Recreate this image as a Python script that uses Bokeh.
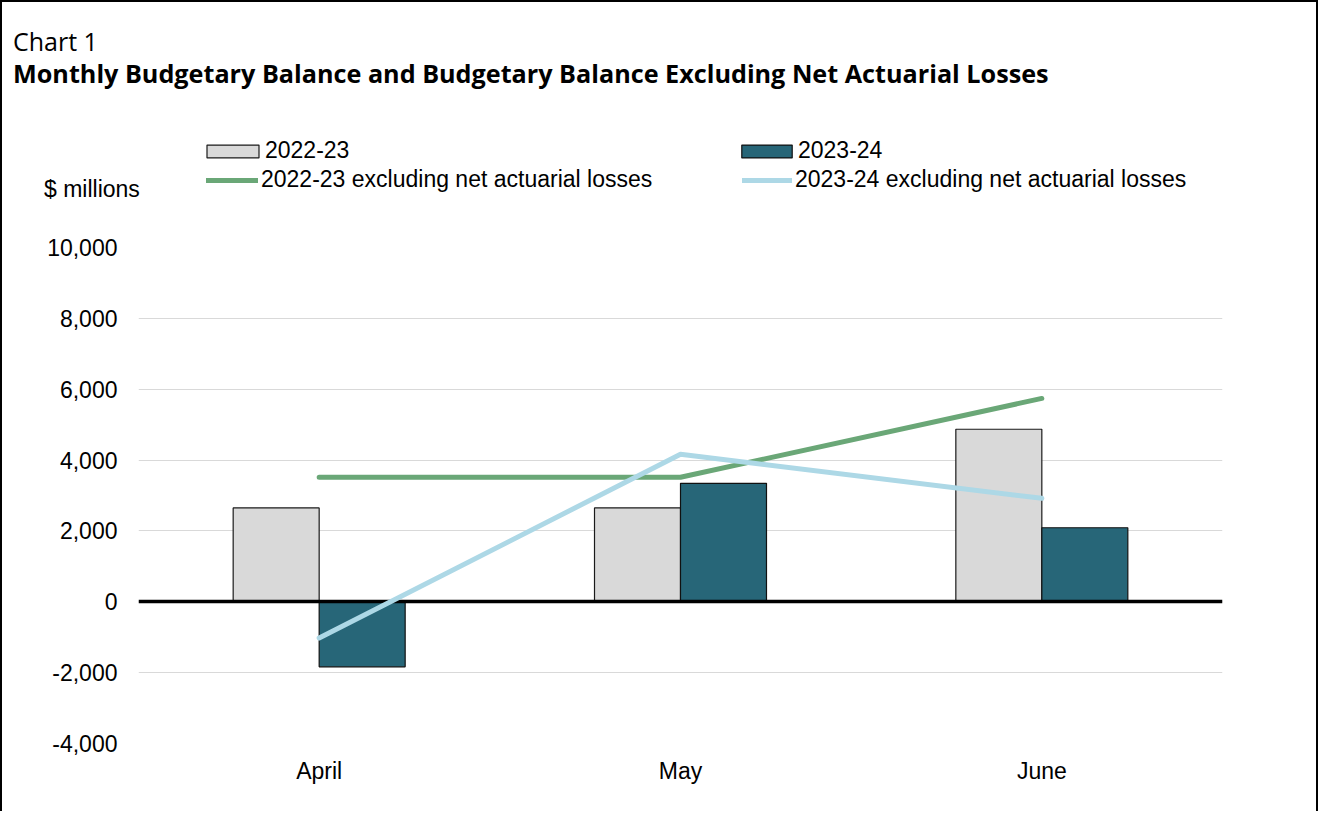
from bokeh.plotting import figure
from bokeh.layouts import column
from bokeh.models import (FactorRange, Range1d, FixedTicker, NumeralTickFormatter, Legend,
                          LegendItem, Label, ColumnDataSource)
from bokeh.transform import dodge
from bokeh.embed import file_html
from bokeh.resources import INLINE

# ---- data ----
months = ["April", "May", "June"]
bal_2022_23 = [2650, 2650, 4870]
bal_2023_24 = [-1835, 3345, 2090]
excl_2022_23 = [3515, 3515, 5740]
excl_2023_24 = [-1025, 4165, 2920]
y_ticks = [-4000, -2000, 0, 2000, 4000, 6000, 8000, 10000]
series_names = ["2022-23", "2023-24",
                "2022-23 excluding net actuarial losses",
                "2023-24 excluding net actuarial losses"]
chart_label = "Chart 1"
chart_title = "Monthly Budgetary Balance and Budgetary Balance Excluding Net Actuarial Losses"
y_unit = "$ millions"

GRAY = "#d9d9d9"
TEAL = "#276678"
GREEN = "#6aa777"
LBLUE = "#add8e6"
AXFONT = "Liberation Sans"
AXSIZE = "23px"
LW = 5
NAN = float("nan")

W = 1318
H1 = 217           # header height
H2 = 594           # main figure height
FL, FR, FT, FB = 138, 1222, 30, 526   # main frame edges (canvas px)

# ---------------- header: titles + legend ----------------
hdr = figure(width=W, height=H1, x_range=Range1d(0, W), y_range=Range1d(H1, 0),
             output_backend="svg", toolbar_location=None,
             x_axis_location=None, y_axis_location=None,
             min_border_left=0, min_border_right=0, min_border_top=0, min_border_bottom=0)
hdr.frame_align = False
hdr.grid.visible = False
hdr.outline_line_color = None
hdr.background_fill_color = None
hdr.border_fill_color = None
hdr.styles = {"box-shadow": "inset 2px 2px 0 0 black, inset -2px 0 0 0 black"}

d_a = hdr.vbar(x=[NAN], top=[NAN], width=1, fill_color=GRAY, line_color="#1a1a1a", line_width=1.2)
d_b = hdr.vbar(x=[NAN], top=[NAN], width=1, fill_color=TEAL, line_color="#111111", line_width=1.2)
d_ea = hdr.line(x=[NAN, NAN], y=[NAN, NAN], line_color=GREEN, line_width=LW, line_cap="round")
d_eb = hdr.line(x=[NAN, NAN], y=[NAN, NAN], line_color=LBLUE, line_width=LW, line_cap="round")

def add_leg(name, rend, vx, vy, gw, gh, standoff):
    lg = Legend(items=[LegendItem(label=name, renderers=[rend])], location=(vx, vy),
                glyph_width=gw, glyph_height=gh, label_standoff=standoff,
                label_text_font=AXFONT, label_text_font_size=AXSIZE,
                label_text_color="black", padding=0, margin=0, spacing=0,
                border_line_alpha=0, background_fill_alpha=0, label_height=16)
    hdr.add_layout(lg)

add_leg(series_names[0], d_a, 200, 53, 65, 16, -3)
add_leg(series_names[2], d_ea, 206, 24, 52, 16, 3)
add_leg(series_names[1], d_b, 735, 53, 63, 16, -4)
add_leg(series_names[3], d_eb, 742, 24, 50, 16, 3)

hdr.add_layout(Label(x=12.5, y=40, text=chart_label, text_font="Open Sans",
                     text_font_size="25px", text_color="black", text_baseline="middle"))
hdr.add_layout(Label(x=12.5, y=72.5, text=chart_title, text_font="Open Sans",
                     text_font_size="25.2px", text_font_style="bold", text_color="black",
                     text_baseline="middle"))
hdr.add_layout(Label(x=43.5, y=188.5, text=y_unit, text_font=AXFONT, text_font_size=AXSIZE,
                     text_color="black", text_baseline="middle"))

# ---------------- main chart ----------------
src = ColumnDataSource(dict(month=months, a=bal_2022_23, b=bal_2023_24,
                            ea=excl_2022_23, eb=excl_2023_24))

p = figure(width=W, height=H2, x_range=FactorRange(factors=months, range_padding=0),
           y_range=Range1d(-4000, 10000), output_backend="svg", toolbar_location=None,
           min_border_left=FL, min_border_right=W - FR, min_border_top=FT,
           min_border_bottom=H2 - FB)
p.frame_align = False
p.outline_line_color = None
p.background_fill_color = None
p.border_fill_color = None
p.styles = {"box-shadow": "inset 2px 0 0 0 black, inset -2px 0 0 0 black"}

bw = 0.238
p.vbar(x=dodge("month", -bw / 2, range=p.x_range), top="a", width=bw, source=src,
       fill_color=GRAY, line_color="#1a1a1a", line_width=1.2)
p.vbar(x=dodge("month", bw / 2, range=p.x_range), top="b", width=bw, source=src,
       fill_color=TEAL, line_color="#111111", line_width=1.2)
p.hspan(y=[0], line_color="black", line_width=3.5)
p.line(x="month", y="ea", source=src, line_color=GREEN, line_width=LW,
       line_cap="round", line_join="round")
p.line(x="month", y="eb", source=src, line_color=LBLUE, line_width=LW,
       line_cap="round", line_join="round")

p.yaxis.ticker = FixedTicker(ticks=y_ticks)
p.yaxis.formatter = NumeralTickFormatter(format="0,0")
for ax in (p.xaxis[0], p.yaxis[0]):
    ax.axis_line_color = None
    ax.major_tick_line_color = None
    ax.minor_tick_line_color = None
    ax.major_tick_out = 0
    ax.major_tick_in = 0
    ax.major_label_text_font = AXFONT
    ax.major_label_text_font_size = AXSIZE
    ax.major_label_text_color = "black"
p.yaxis.major_label_standoff = 21
p.xaxis.major_label_standoff = 14
p.xgrid.grid_line_color = None
p.ygrid.grid_line_color = "#d9d9d9"
p.ygrid.grid_line_width = 1

page = column(hdr, p, spacing=0)

open("out.html", "w").write(file_html(page, INLINE))
